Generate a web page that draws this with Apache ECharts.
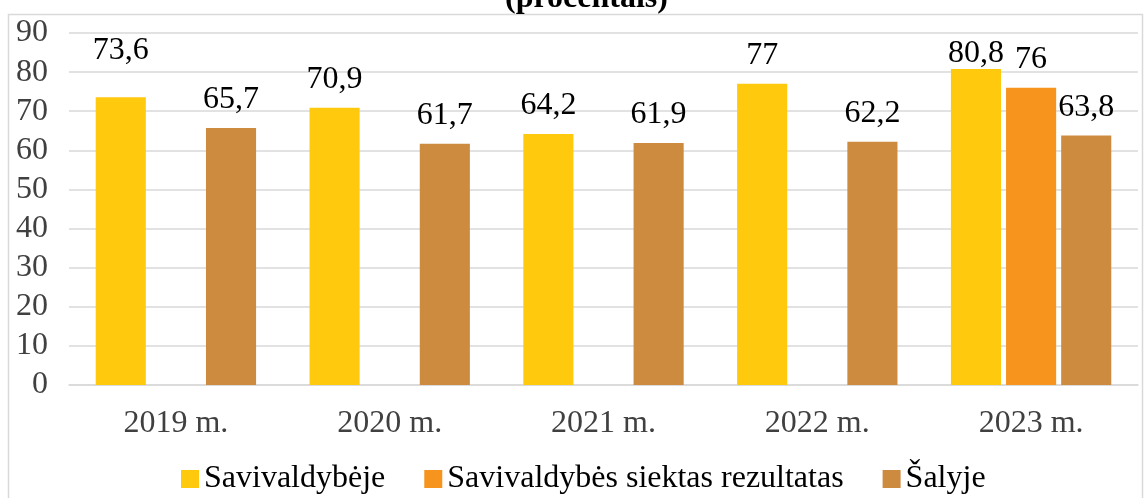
<!DOCTYPE html>
<html><head><meta charset="utf-8">
<script src="https://cdn.jsdelivr.net/npm/echarts@6/dist/echarts.min.js"></script>
<style>html,body{margin:0;padding:0;background:#fff}#c{width:1144px;height:498px}</style>
</head><body><div id="c"></div>
<script>
const categories = ['2019 m.', '2020 m.', '2021 m.', '2022 m.', '2023 m.'];
const savivaldybeje = [73.6, 70.9, 64.2, 77, 80.8];
const siektas = [null, null, null, null, 76];
const salyje = [65.7, 61.7, 61.9, 62.2, 63.8];
const yTicks = [0, 10, 20, 30, 40, 50, 60, 70, 80, 90];

const font = '"Liberation Serif", "Times New Roman", serif';
const FS = 32;
const lbl = {show: true, position: 'top', distance: 12, color: '#000', fontFamily: font, fontSize: FS,
  formatter: p => p.value == null ? '' : String(p.value).replace('.', ',')};
// manual label nudges as in the reference (by series index / category index)
const labelNudge = {'0-0': [0, -19], '0-4': [0, 13]};
function build(arr, si) {
  return arr.map((v, i) => {
    const n = labelNudge[si + '-' + i];
    return n ? {value: v, label: {offset: n}} : v;
  });
}
const chart = echarts.init(document.getElementById('c'));
chart.setOption({
  animation: false,
  title: {text: '(procentais)', left: 500, top: -22, textStyle: {fontFamily: font, fontSize: 32, fontWeight: 'bold', color: '#000'}},
  graphic: [{type: 'rect', shape: {x: 8.5, y: 14.5, width: 1134, height: 500}, style: {fill: 'none', stroke: '#d9d9d9', lineWidth: 1.5}, z: -1}],
  grid: {left: 69, right: 6, top: 33, bottom: 113},
  legend: {top: 458, left: 176, itemWidth: 18, itemHeight: 18, itemGap: 39, icon: 'rect',
    textStyle: {fontFamily: font, fontSize: FS, color: '#000'}},
  xAxis: {type: 'category', data: categories, axisTick: {show: false},
    axisLine: {lineStyle: {color: '#d9d9d9', width: 1.5}},
    axisLabel: {fontFamily: font, fontSize: FS, color: '#404040', margin: 23}},
  yAxis: {type: 'value', min: yTicks[0], max: yTicks[yTicks.length - 1], interval: 10,
    splitLine: {lineStyle: {color: '#d9d9d9', width: 1.5}},
    axisLabel: {fontFamily: font, fontSize: FS, color: '#404040', margin: 21}},
  series: [
    {name: 'Savivaldybėje', type: 'bar', data: build(savivaldybeje, 0), itemStyle: {color: '#FFC90E'}, barGap: '10%', barCategoryGap: '25%', label: lbl},
    {name: 'Savivaldybės siektas rezultatas', type: 'bar', data: build(siektas, 1), itemStyle: {color: '#F7941D'}, label: lbl},
    {name: 'Šalyje', type: 'bar', data: build(salyje, 2), itemStyle: {color: '#CD8B40'}, label: lbl}
  ]
});
</script></body></html>
